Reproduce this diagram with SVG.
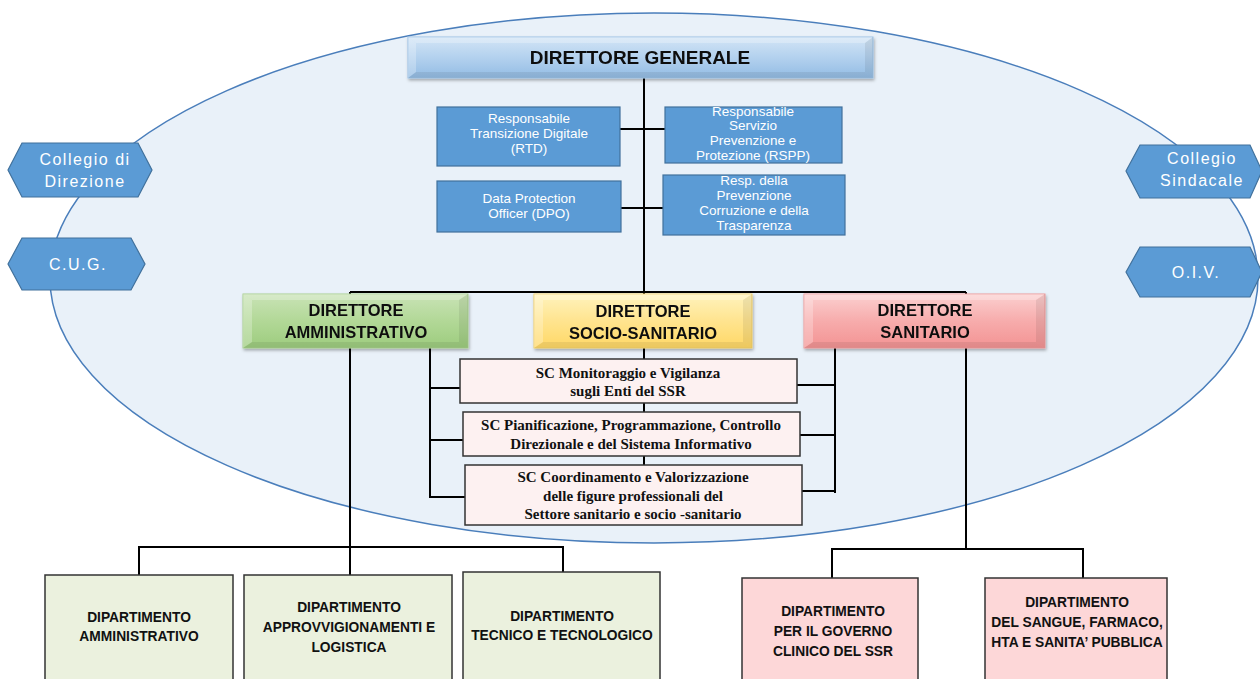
<svg xmlns="http://www.w3.org/2000/svg" width="1260" height="679" viewBox="0 0 1260 679">
<defs>
<linearGradient id="gBlue" x1="0" y1="0" x2="0" y2="1"><stop offset="0" stop-color="#d3e5f6"/><stop offset="0.5" stop-color="#b3d1ee"/><stop offset="1" stop-color="#93bce4"/></linearGradient>
<linearGradient id="gGreen" x1="0" y1="0" x2="0" y2="1"><stop offset="0" stop-color="#c9e3b6"/><stop offset="0.5" stop-color="#b2d897"/><stop offset="1" stop-color="#9dcc7e"/></linearGradient>
<linearGradient id="gYellow" x1="0" y1="0" x2="0" y2="1"><stop offset="0" stop-color="#fff3bd"/><stop offset="0.5" stop-color="#ffe48f"/><stop offset="1" stop-color="#ffd866"/></linearGradient>
<linearGradient id="gRed" x1="0" y1="0" x2="0" y2="1"><stop offset="0" stop-color="#fbd0d0"/><stop offset="0.5" stop-color="#f7acac"/><stop offset="1" stop-color="#f39393"/></linearGradient>
<filter id="sh" x="-5%" y="-20%" width="110%" height="140%"><feDropShadow dx="1" dy="2" stdDeviation="1.5" flood-color="#000" flood-opacity="0.3"/></filter>
</defs>
<style>
.ell{fill:#e9f1f9;stroke:#4a7ebb;stroke-width:1.5}
.blue{fill:#5b9bd5;stroke:#41719c;stroke-width:1.2}
.wt{font-family:"Liberation Sans",Arial,sans-serif;fill:#fff;font-size:13.5px;text-anchor:middle}
.hx{font-family:"Liberation Sans",Arial,sans-serif;fill:#fff;font-size:16px;text-anchor:middle;letter-spacing:1.5px}
.dir{font-family:"Liberation Sans",Arial,sans-serif;font-weight:bold;fill:#111;font-size:16.5px;text-anchor:middle}
.sc{fill:#fdf1f1;stroke:#333;stroke-width:1.5}
.sct{font-family:"Liberation Serif","Times New Roman",serif;font-weight:bold;fill:#111;font-size:15px;text-anchor:middle}
.dg{fill:#ebf1de;stroke:#333;stroke-width:1.5}
.dr{fill:#fdd7d8;stroke:#333;stroke-width:1.5}
.dt{font-family:"Liberation Sans",Arial,sans-serif;font-weight:bold;fill:#111;font-size:13.8px;text-anchor:middle}
.ln{fill:none;stroke:#000;stroke-width:2}
.bvl{fill:#fff;opacity:0.25}
.bvd{fill:#000;opacity:0.07}
</style>
<rect width="1260" height="679" fill="#fff"/>
<ellipse class="ell" cx="654" cy="278" rx="604" ry="265"/>

<g id="connectors">
<path class="ln" d="M644 78 V360 M620 129 H665 M621 208 H663 M350 292 H966 M350 292 V294 M966 292 V294"/>
<path class="ln" d="M350 348 V575 M430 348 V498 M430 388 H460 M430 440 H463 M430 497 H465"/>
<path class="ln" d="M835 348 V493 M797 385 H835 M800 435 H835 M802 491 H835"/>
<path class="ln" d="M644 403 V412 M644 456 V465"/>
<path class="ln" d="M139 575 V547 H563 V572"/>
<path class="ln" d="M966 348 V549 M832 578 V549 H1083 V578"/>
</g>

<g id="direttore-generale" filter="url(#sh)">
<rect x="408" y="37" width="465" height="41" fill="url(#gBlue)" stroke="#9cc2e5"/>
<polygon class="bvl" points="408,37 873,37 865,43 416,43"/>
<polygon class="bvd" points="408,78 873,78 865,72 416,72"/>
<polygon class="bvl" points="408,37 416,43 416,72 408,78"/>
<polygon class="bvd" points="873,37 865,43 865,72 873,78"/>
<text x="640" y="64" style="font-family:'Liberation Sans',Arial,sans-serif;font-weight:bold;font-size:19px;fill:#111;text-anchor:middle">DIRETTORE  GENERALE</text>
</g>

<g id="rtd"><rect class="blue" x="437" y="107" width="183" height="59"/>
<text class="wt"><tspan x="529" y="123">Responsabile</tspan><tspan x="529" y="138">Transizione Digitale</tspan><tspan x="529" y="153">(RTD)</tspan></text></g>
<g id="rspp"><rect class="blue" x="665" y="107" width="177" height="56"/>
<text class="wt"><tspan x="753" y="116">Responsabile</tspan><tspan x="753" y="130">Servizio</tspan><tspan x="753" y="145">Prevenzione e</tspan><tspan x="753" y="160">Protezione (RSPP)</tspan></text></g>
<g id="dpo"><rect class="blue" x="437" y="181" width="184" height="51"/>
<text class="wt"><tspan x="529" y="203">Data Protection</tspan><tspan x="529" y="218">Officer (DPO)</tspan></text></g>
<g id="rpct"><rect class="blue" x="663" y="175" width="182" height="60"/>
<text class="wt"><tspan x="754" y="185">Resp. della</tspan><tspan x="754" y="200">Prevenzione</tspan><tspan x="754" y="215">Corruzione e della</tspan><tspan x="754" y="230">Trasparenza</tspan></text></g>

<g id="collegio-direzione"><polygon class="blue" points="8,170 22,143 138,143 152,170 138,197 22,197"/>
<text class="hx"><tspan x="85" y="165">Collegio di</tspan><tspan x="85" y="187">Direzione</tspan></text></g>
<g id="cug"><polygon class="blue" points="8,264 22,238 131,238 145,264 131,290 22,290"/>
<text class="hx" x="78" y="270">C.U.G.</text></g>
<g id="collegio-sindacale"><polygon class="blue" points="1126,171 1140,145 1250,145 1262,171 1250,198 1140,198"/>
<text class="hx"><tspan x="1202" y="164">Collegio</tspan><tspan x="1202" y="186">Sindacale</tspan></text></g>
<g id="oiv"><polygon class="blue" points="1126,272 1140,247 1250,247 1262,272 1250,297 1140,297"/>
<text class="hx" x="1196" y="278">O.I.V.</text></g>

<g id="direttore-amministrativo" filter="url(#sh)">
<rect x="243" y="294" width="225" height="54" fill="url(#gGreen)" stroke="#a9cf8f"/>
<polygon class="bvl" points="243,294 468,294 459,300 252,300"/>
<polygon class="bvd" points="243,348 468,348 459,342 252,342"/>
<polygon class="bvl" points="243,294 252,300 252,342 243,348"/>
<polygon class="bvd" points="468,294 459,300 459,342 468,348"/>
<text class="dir"><tspan x="356" y="316">DIRETTORE</tspan><tspan x="356" y="338">AMMINISTRATIVO</tspan></text></g>
<g id="direttore-socio-sanitario" filter="url(#sh)">
<rect x="534" y="294" width="218" height="54" fill="url(#gYellow)" stroke="#f2d06b"/>
<polygon class="bvl" points="534,294 752,294 743,300 543,300"/>
<polygon class="bvd" points="534,348 752,348 743,342 543,342"/>
<polygon class="bvl" points="534,294 543,300 543,342 534,348"/>
<polygon class="bvd" points="752,294 743,300 743,342 752,348"/>
<text class="dir"><tspan x="643" y="317">DIRETTORE</tspan><tspan x="643" y="339">SOCIO-SANITARIO</tspan></text></g>
<g id="direttore-sanitario" filter="url(#sh)">
<rect x="804" y="294" width="241" height="54" fill="url(#gRed)" stroke="#ee9a9a"/>
<polygon class="bvl" points="804,294 1045,294 1036,300 813,300"/>
<polygon class="bvd" points="804,348 1045,348 1036,342 813,342"/>
<polygon class="bvl" points="804,294 813,300 813,342 804,348"/>
<polygon class="bvd" points="1045,294 1036,300 1036,342 1045,348"/>
<text class="dir"><tspan x="925" y="316">DIRETTORE</tspan><tspan x="925" y="338">SANITARIO</tspan></text></g>

<g id="sc-monitoraggio"><rect class="sc" x="460" y="359" width="337" height="44"/>
<text class="sct"><tspan x="628" y="378">SC Monitoraggio e Vigilanza</tspan><tspan x="628" y="396">sugli Enti del SSR</tspan></text></g>
<g id="sc-pianificazione"><rect class="sc" x="463" y="412" width="337" height="44"/>
<text class="sct"><tspan x="631" y="430">SC Pianificazione, Programmazione, Controllo</tspan><tspan x="631" y="449">Direzionale e del  Sistema Informativo</tspan></text></g>
<g id="sc-coordinamento"><rect class="sc" x="465" y="465" width="337" height="60"/>
<text class="sct"><tspan x="633" y="482">SC Coordinamento e Valorizzazione</tspan><tspan x="633" y="501">delle figure professionali  del</tspan><tspan x="633" y="519">Settore sanitario e socio -sanitario</tspan></text></g>

<g id="dip-amministrativo"><rect class="dg" x="45" y="575" width="188" height="115"/>
<text class="dt"><tspan x="139" y="622">DIPARTIMENTO</tspan><tspan x="139" y="641">AMMINISTRATIVO</tspan></text></g>
<g id="dip-approvvigionamenti"><rect class="dg" x="244" y="575" width="208" height="115"/>
<text class="dt"><tspan x="349" y="612">DIPARTIMENTO</tspan><tspan x="349" y="632">APPROVVIGIONAMENTI E</tspan><tspan x="349" y="652">LOGISTICA</tspan></text></g>
<g id="dip-tecnico"><rect class="dg" x="463" y="572" width="197" height="118"/>
<text class="dt"><tspan x="562" y="621">DIPARTIMENTO</tspan><tspan x="562" y="640">TECNICO E TECNOLOGICO</tspan></text></g>
<g id="dip-governo-clinico"><rect class="dr" x="742" y="578" width="176" height="112"/>
<text class="dt"><tspan x="833" y="616">DIPARTIMENTO</tspan><tspan x="833" y="636">PER IL GOVERNO</tspan><tspan x="833" y="656">CLINICO DEL SSR</tspan></text></g>
<g id="dip-sangue"><rect class="dr" x="985" y="578" width="182" height="112"/>
<text class="dt"><tspan x="1077" y="607">DIPARTIMENTO</tspan><tspan x="1077" y="627">DEL SANGUE, FARMACO,</tspan><tspan x="1077" y="647">HTA E SANITA’ PUBBLICA</tspan></text></g>
</svg>
